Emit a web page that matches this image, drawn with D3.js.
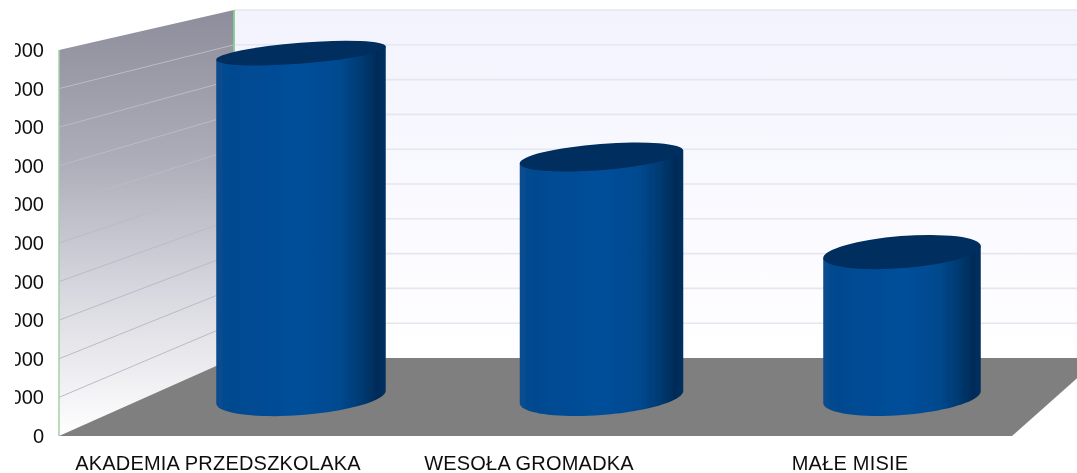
<!DOCTYPE html>
<html>
<head>
<meta charset="utf-8">
<script src="https://cdn.jsdelivr.net/npm/d3@7"></script>
<style>
  html, body { margin: 0; padding: 0; background: #fff; }
  svg { display: block; }
  text { font-family: "Liberation Sans", Arial, sans-serif; fill: #111; }
</style>
</head>
<body>
<script>
const categories = ['AKADEMIA PRZEDSZKOLAKA', 'WESOŁA GROMADKA', 'MAŁE MISIE'];
const values = [9370, 6540, 3950];
const tickValues = [0, 1000, 2000, 3000, 4000, 5000, 6000, 7000, 8000, 9000, 10000];

const width = 1077, height = 473;

// front plane is where the axis sits, back plane is the far wall
const yFront = d3.scaleLinear().domain([0, 10000]).range([436, 50]);
const yBack = d3.scaleLinear().domain([0, 10000]).range([358, 10]);
const yBar = d3.scaleLinear().domain([0, 10000]).range([397, 30]);
const xBar = d3.scalePoint().domain(categories).range([301, 902]);
const xLabel = d3.scaleOrdinal().domain(categories).range([218, 529, 850]);
const barRx = d3.scaleOrdinal().domain(categories).range([85, 82, 79]);
const ryTop = d3.scaleLinear().domain([0, 3950, 6540, 9370]).range([18, 16, 13, 10.5]);

const wallLeft = 59, wallBack = 234, floorRight = 1012, floorBack = 1100;
const tilt = -4.5 * Math.PI / 180;

const svg = d3.select('body').append('svg').attr('width', width).attr('height', height);
const defs = svg.append('defs');

function vGradient(id, stops) {
  const g = defs.append('linearGradient').attr('id', id)
    .attr('x1', 0).attr('y1', 0).attr('x2', 0).attr('y2', 1);
  stops.forEach(function (s) {
    g.append('stop').attr('offset', s[0]).attr('stop-color', s[1]);
  });
}
vGradient('sideWall', [[0, '#8d8d9b'], [0.35, '#adadb9'], [0.65, '#d6d6de'], [1, '#ffffff']]);
vGradient('backWall', [[0, '#f3f3fe'], [0.6, '#fafaff'], [1, '#ffffff']]);

const body = defs.append('linearGradient').attr('id', 'barBody');
[[0, '#0a4c8f'], [0.1, '#004a90'], [0.5, '#004e9a'], [0.72, '#004a90'], [0.86, '#003a72'], [0.95, '#002b58'], [1, '#00305f']]
  .forEach(function (s) { body.append('stop').attr('offset', s[0]).attr('stop-color', s[1]); });

defs.append('filter').attr('id', 'soft')
  .append('feGaussianBlur').attr('stdDeviation', 0.5);
defs.append('filter').attr('id', 'softText')
  .append('feGaussianBlur').attr('stdDeviation', 0.3);
defs.append('clipPath').attr('id', 'tickClip')
  .append('rect').attr('x', 15).attr('y', 0).attr('width', 60).attr('height', height);

const chart = svg.append('g').attr('filter', 'url(#soft)');

// back wall
chart.append('rect')
  .attr('x', wallBack).attr('y', yBack(10000))
  .attr('width', width - wallBack).attr('height', yBack(0) - yBack(10000))
  .attr('fill', 'url(#backWall)');

chart.selectAll('.back-grid').data(tickValues.slice(1))
  .join('line').attr('class', 'back-grid')
  .attr('x1', wallBack).attr('x2', width)
  .attr('y1', function (d) { return yBack(d); })
  .attr('y2', function (d) { return yBack(d); })
  .attr('stroke', '#e6e6ee').attr('stroke-width', 1.6);

// side wall
chart.append('path')
  .attr('d', d3.line()([
    [wallLeft, yFront(10000)], [wallBack, yBack(10000)],
    [wallBack, yBack(0)], [wallLeft, yFront(0)]
  ]) + 'Z')
  .attr('fill', 'url(#sideWall)');

chart.selectAll('.side-grid').data(tickValues.slice(1, -1))
  .join('line').attr('class', 'side-grid')
  .attr('x1', wallLeft).attr('x2', wallBack)
  .attr('y1', function (d) { return yFront(d); })
  .attr('y2', function (d) { return yBack(d); })
  .attr('stroke', '#bbbbc7').attr('stroke-width', 1);

// thin green edges of the walls
chart.append('line')
  .attr('x1', wallLeft).attr('x2', wallLeft)
  .attr('y1', yFront(10000)).attr('y2', yFront(0))
  .attr('stroke', '#a4cfa8').attr('stroke-width', 1.5);
chart.append('line')
  .attr('x1', wallBack).attr('x2', wallBack)
  .attr('y1', yBack(10000)).attr('y2', yBack(0))
  .attr('stroke', '#86cc90').attr('stroke-width', 1.8);

// floor
chart.append('path')
  .attr('d', d3.line()([
    [wallLeft, yFront(0)], [wallBack, yBack(0)],
    [floorBack, yBack(0)], [floorRight, yFront(0)]
  ]) + 'Z')
  .attr('fill', '#7f7f7f');

function ellipsePoint(cx, cy, rx, ry, t) {
  return [
    cx + rx * Math.cos(t) * Math.cos(tilt) - ry * Math.sin(t) * Math.sin(tilt),
    cy + rx * Math.cos(t) * Math.sin(tilt) + ry * Math.sin(t) * Math.cos(tilt)
  ];
}

function barPath(d, i) {
  const cx = xBar(categories[i]), rx = barRx(categories[i]);
  const topY = yBar(d), baseY = yBar(0);
  const ryT = ryTop(d), ryB = ryTop(0);
  const t0T = Math.atan2(-ryT * Math.sin(tilt), rx * Math.cos(tilt));
  const t0B = Math.atan2(-ryB * Math.sin(tilt), rx * Math.cos(tilt));
  const pts = [ellipsePoint(cx, topY, rx, ryT, t0T + Math.PI), ellipsePoint(cx, topY, rx, ryT, t0T)];
  d3.range(0, 41).forEach(function (k) {
    pts.push(ellipsePoint(cx, baseY, rx, ryB, t0B + Math.PI * k / 40));
  });
  return d3.line()(pts) + 'Z';
}

chart.selectAll('.bar-body').data(values)
  .join('path').attr('class', 'bar-body')
  .attr('d', barPath)
  .attr('fill', 'url(#barBody)');

chart.selectAll('.bar-top').data(values)
  .join('ellipse').attr('class', 'bar-top')
  .attr('rx', function (d, i) { return barRx(categories[i]); })
  .attr('ry', function (d) { return ryTop(d); })
  .attr('transform', function (d, i) {
    return 'translate(' + xBar(categories[i]) + ',' + yBar(d) + ') rotate(' + (tilt * 180 / Math.PI) + ')';
  })
  .attr('fill', '#002d5e');

// y axis, the leading digits are cut by the edge of the original picture
const axisWrap = svg.append('g').attr('clip-path', 'url(#tickClip)');
const axis = axisWrap.append('g').attr('transform', 'translate(44,0)')
  .call(d3.axisLeft(yFront).tickValues(tickValues).tickSize(0).tickPadding(0).tickFormat(d3.format('d')));
axis.select('.domain').remove();
axis.selectAll('text')
  .attr('font-size', 20)
  .attr('filter', 'url(#softText)')
  .style('font-family', '"Liberation Sans", Arial, sans-serif')
  .attr('fill', '#111');

svg.selectAll('.cat-label').data(categories)
  .join('text').attr('class', 'cat-label')
  .attr('x', function (d) { return xLabel(d); })
  .attr('y', 470)
  .attr('text-anchor', 'middle')
  .attr('font-size', 20)
  .attr('letter-spacing', 0.2)
  .attr('filter', 'url(#softText)')
  .text(function (d) { return d; });
</script>
</body>
</html>
